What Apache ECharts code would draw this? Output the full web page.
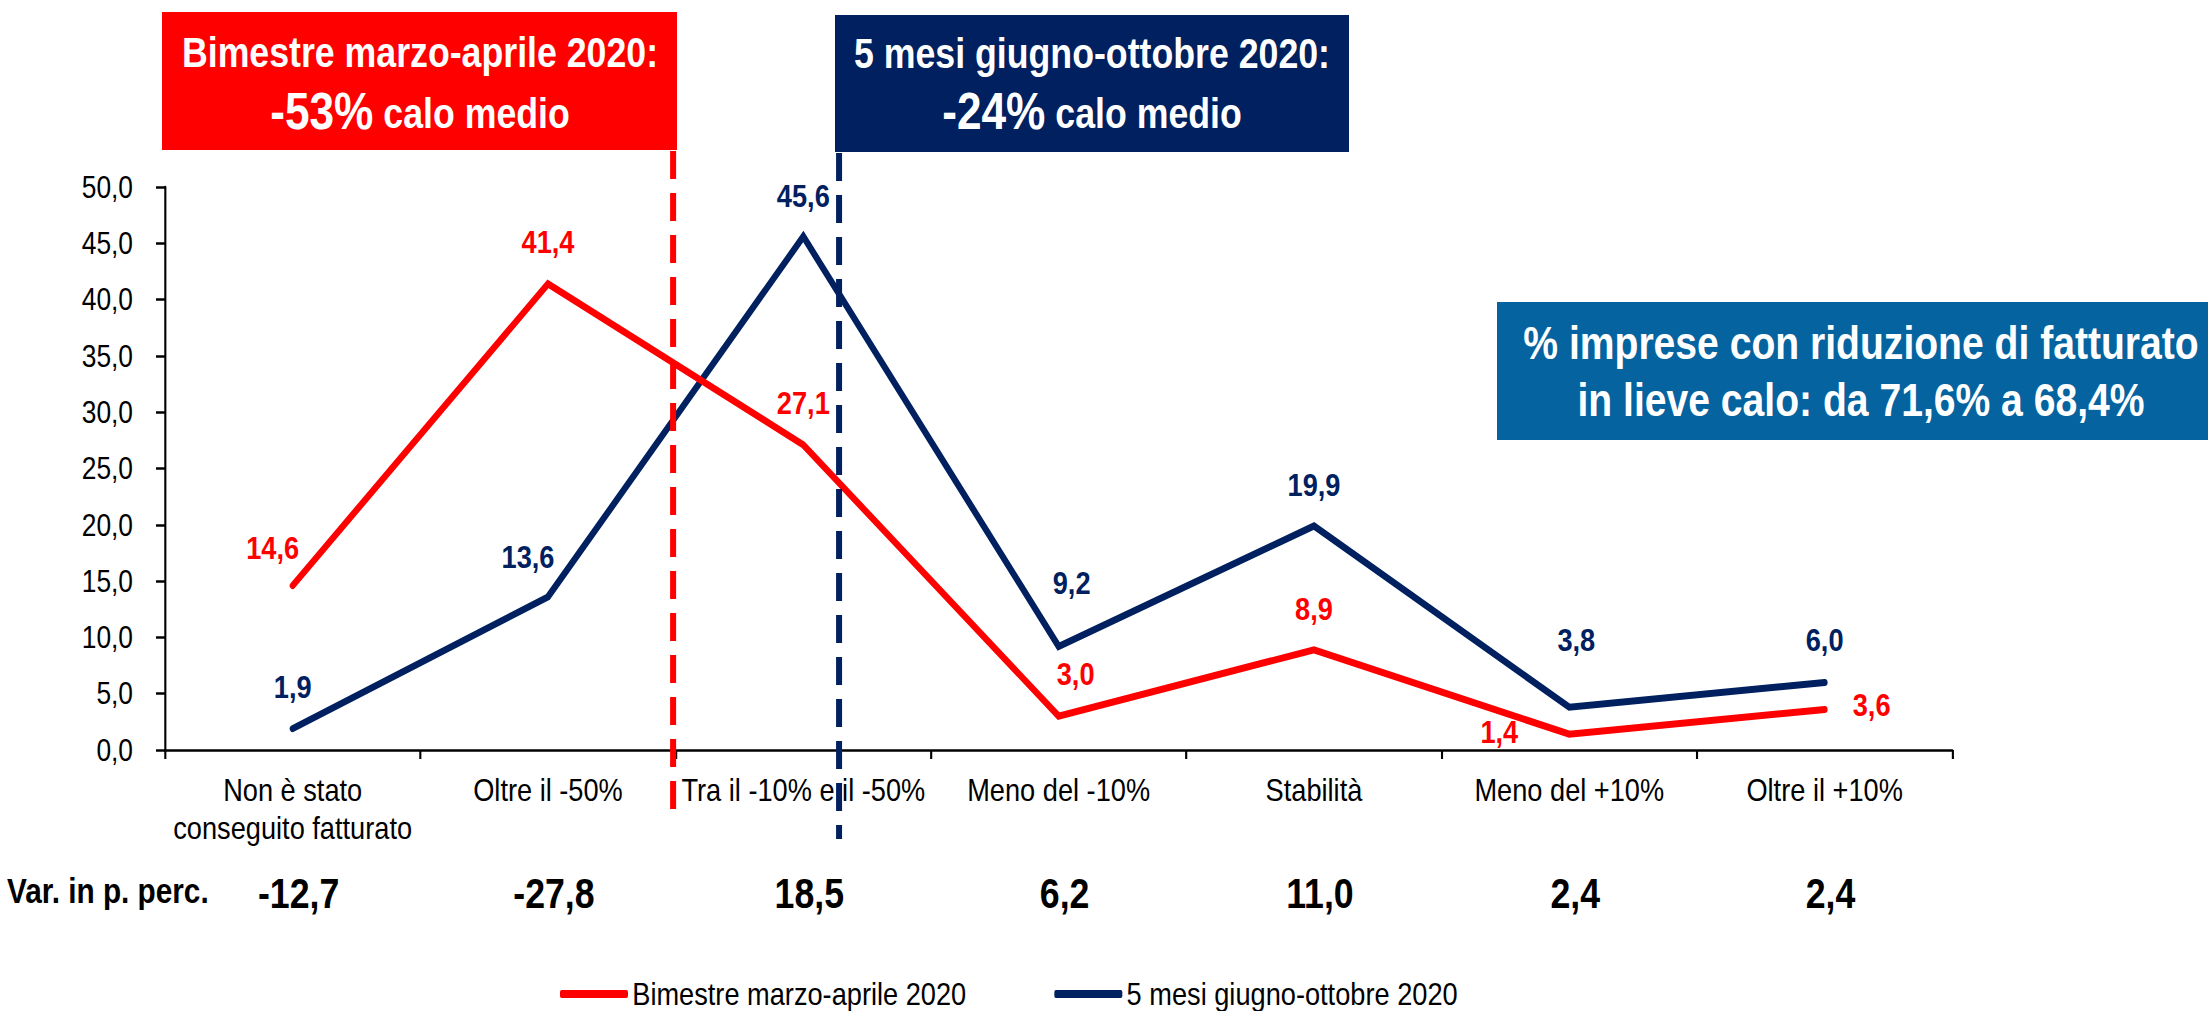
<!DOCTYPE html>
<html>
<head>
<meta charset="utf-8">
<script src="https://cdn.jsdelivr.net/npm/echarts@6/dist/echarts.min.js"></script>
<style>
html, body { margin:0; padding:0; overflow:hidden; background:#fff; width:2208px; height:1011px; }
#main { transform-origin: 0 0; }
</style>
</head>
<body>
<div id="main"></div>
<script>
// ---------- data ----------
const categories = ['Non è stato\nconseguito fatturato', 'Oltre il -50%', 'Tra il -10% e il -50%', 'Meno del -10%', 'Stabilità', 'Meno del +10%', 'Oltre il +10%'];
const seriesNames = ['Bimestre marzo-aprile 2020', '5 mesi giugno-ottobre 2020'];
const bimestre = [14.6, 41.4, 27.1, 3.0, 8.9, 1.4, 3.6];
const cinqueMesi = [1.9, 13.6, 45.6, 9.2, 19.9, 3.8, 6.0];
const varPerc = ['-12,7', '-27,8', '18,5', '6,2', '11,0', '2,4', '2,4'];
const yTicks = { min: 0, max: 50, interval: 5 };

// ---------- layout (text in the source is horizontally condensed) ----------
const S = 0.85;
const VW = Math.round(2208 / S);
const H = 1011;
const X = v => v / S;
const FONT = "'Liberation Sans', Arial, Helvetica, sans-serif";
const RED = '#FF0000', NAVY = '#002060', TEAL = '#0563A0';

const redOff = [[-20,-38],[0,-42],[0,-42],[17,-43],[0,-41],[-70,-3],[47,-5]];
const blueOff = [[0,-42],[-20,-40],[0,-41],[13,-64],[0,-41],[7,-68],[0,-43]];

const dom = document.getElementById('main');
dom.style.width = VW + 'px';
dom.style.height = H + 'px';
dom.style.transform = 'scaleX(' + S + ')';
const chart = echarts.init(dom, null, { renderer: 'svg', width: VW, height: H });

const fmt = v => v.toFixed(1).replace('.', ',');

function mkSeries(name, vals, offs, color, z) {
  return {
    name, type: 'line', z,
    data: vals.map((v, i) => ({ value: v, label: { offset: [X(offs[i][0]), offs[i][1]] } })),
    symbol: 'circle', symbolSize: 2, showSymbol: true,
    itemStyle: { color },
    lineStyle: { color, width: 7, cap: 'round', join: 'miter' },
    label: {
      show: true, position: 'inside', align: 'center', verticalAlign: 'middle',
      color, fontFamily: FONT, fontWeight: 'bold', fontSize: 32,
      formatter: p => fmt(p.value)
    },
    emphasis: { disabled: true },
    animation: false
  };
}

const option = {
  backgroundColor: '#fff',
  animation: false,
  grid: { left: X(165), right: X(2208 - 1952), top: 187, bottom: H - 750, containLabel: false },
  legend: {
    data: seriesNames,
    left: X(560), top: 978, padding: 0,
    itemWidth: X(68), itemHeight: 8, itemGap: X(88),
    icon: 'roundRect',
    textStyle: { fontFamily: FONT, fontSize: 32, lineHeight: 30, color: '#000' },
    selectedMode: false
  },
  xAxis: [
    {
      type: 'category', data: categories, boundaryGap: true, position: 'bottom',
      axisLine: { show: true, lineStyle: { color: '#000', width: 2.5 } },
      axisTick: { show: true, length: 9, inside: false, lineStyle: { color: '#000', width: 2.5 } },
      axisLabel: { interval: 0, margin: 21, fontFamily: FONT, fontSize: 32, lineHeight: 38, color: '#000' },
      splitLine: { show: false }
    },
    {
      type: 'category', data: varPerc, boundaryGap: true, position: 'bottom', offset: 0,
      axisLine: { show: false }, axisTick: { show: false },
      axisLabel: { interval: 0, margin: 122, fontFamily: FONT, fontSize: 42, lineHeight: 42, fontWeight: 'bold', color: '#000', padding: [0, 0, 0, 14] },
      splitLine: { show: false }
    }
  ],
  yAxis: {
    type: 'value', min: yTicks.min, max: yTicks.max, interval: yTicks.interval,
    axisLine: { show: true, lineStyle: { color: '#000', width: 2.5 } },
    axisTick: { show: true, length: X(9), inside: false, lineStyle: { color: '#000', width: 2.5 } },
    axisLabel: { margin: X(32), fontFamily: FONT, fontSize: 31, color: '#000', formatter: v => fmt(v) },
    splitLine: { show: false }
  },
  series: [
    mkSeries(seriesNames[0], bimestre, redOff, RED, 3),
    mkSeries(seriesNames[1], cinqueMesi, blueOff, NAVY, 2)
  ]
};
chart.setOption(option);

// ---------- annotations ----------
const x0 = chart.convertToPixel({ xAxisIndex: 0 }, 0);
const x1 = chart.convertToPixel({ xAxisIndex: 0 }, 1);
const step = x1 - x0;
const redX = x0 + 1.49 * step;
const blueX = x0 + 2.14 * step;

function txt(text, cx, cy, size) {
  return {
    type: 'text', z: 100,
    style: {
      text, x: cx, y: cy, fill: '#fff',
      font: 'bold ' + size + 'px ' + FONT,
      textAlign: 'center', textVerticalAlign: 'middle', align: 'center', verticalAlign: 'middle'
    }
  };
}
function rich2(big, small, cx, cy) {
  return {
    type: 'text', z: 100,
    style: {
      text: '{a|' + big + '}{b| ' + small + '}', x: cx, y: cy,
      textAlign: 'center', textVerticalAlign: 'middle', align: 'center', verticalAlign: 'middle',
      fill: '#fff',
      rich: {
        a: { fontFamily: FONT, fontWeight: 'bold', fontSize: 52, fill: '#fff', color: '#fff', verticalAlign: 'bottom' },
        b: { fontFamily: FONT, fontWeight: 'bold', fontSize: 42, fill: '#fff', color: '#fff', verticalAlign: 'bottom', padding: [0, 0, 3, 0] }
      }
    }
  };
}

const graphic = [
  { type: 'rect', z: 90, shape: { x: X(162), y: 12, width: X(515), height: 138 }, style: { fill: RED } },
  txt('Bimestre marzo-aprile 2020:', X(420), 52, 42),
  rich2('-53%', 'calo medio', X(420), 111),
  { type: 'rect', z: 90, shape: { x: X(835), y: 15, width: X(514), height: 137 }, style: { fill: NAVY } },
  txt('5 mesi giugno-ottobre 2020:', X(1092), 53, 42),
  rich2('-24%', 'calo medio', X(1092), 111),
  { type: 'rect', z: 90, shape: { x: X(1497), y: 302, width: X(720), height: 138 }, style: { fill: TEAL } },
  txt('% imprese con riduzione di fatturato', X(1861), 343, 46),
  txt('in lieve calo: da 71,6% a 68,4%', X(1861), 400, 46),
  {
    type: 'text', z: 100,
    style: { text: 'Var. in p. perc.', x: X(7), y: 891, fill: '#000', font: 'bold 35px ' + FONT,
      textAlign: 'left', textVerticalAlign: 'middle', align: 'left', verticalAlign: 'middle' }
  },
  { type: 'line', z: 95, shape: { x1: redX, y1: 151, x2: redX, y2: 817 },
    style: { stroke: RED, lineWidth: X(6), lineDash: [28, 14] } },
  { type: 'line', z: 95, shape: { x1: blueX, y1: 153, x2: blueX, y2: 839 },
    style: { stroke: NAVY, lineWidth: X(6), lineDash: [28, 14] } }
];
chart.setOption({ graphic });
</script>
</body>
</html>
